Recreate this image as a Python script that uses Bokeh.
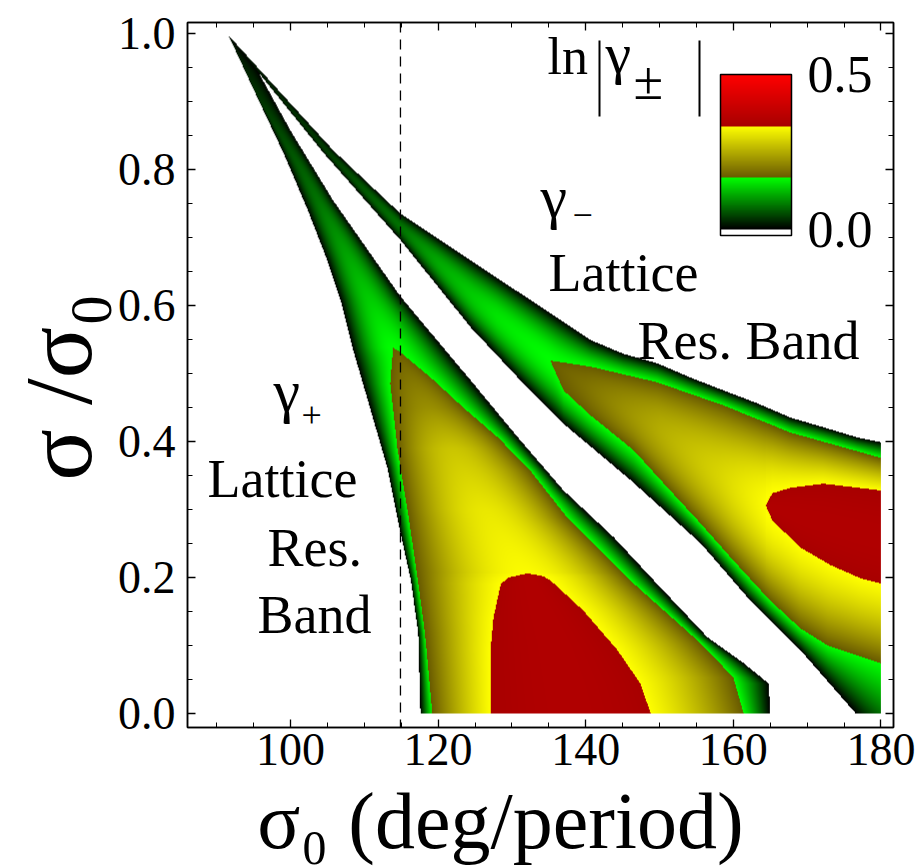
import numpy as np
from bokeh.plotting import figure
from bokeh.models import (LinearAxis, FixedTicker, PrintfTickFormatter, Span, BoxAnnotation,
                          ColorBar, LinearColorMapper, Range1d, CustomJSTickFormatter)
from bokeh.core.properties import value
from bokeh.embed import file_html
from bokeh.resources import INLINE

# ---------------- data ----------------
# gamma+ lattice resonance band, described row by row (sigma/sigma0 -> sigma0)
GP_L0_Y = [0.0, 0.118, 0.196, 0.265, 0.362, 0.456, 0.534, 0.607, 0.666, 0.744, 0.824, 0.906, 0.997]
GP_L0_X = [117.6, 117.3, 116.3, 114.9, 113.1, 110.6, 108.5, 106.8, 105.0, 102.2, 99.05, 95.5, 91.6]
GP_R0_Y = [0.0, 0.044, 0.074, 0.112, 0.196, 0.259, 0.328, 0.406, 0.490, 0.613, 0.754, 0.857, 0.946, 0.997]
GP_R0_X = [165.0, 164.8, 161.4, 156.5, 149.2, 143.8, 137.0, 130.8, 124.4, 114.9, 105.8, 100.0, 95.5, 91.6]
GP_L1_Y = [0.0, 0.118, 0.191, 0.288, 0.387, 0.485, 0.538]
GP_L1_X = [119.2, 118.2, 117.3, 116.0, 114.5, 113.5, 113.9]
GP_R1_Y = [0.0, 0.053, 0.103, 0.191, 0.288, 0.357, 0.406, 0.450, 0.494, 0.531, 0.538]
GP_R1_X = [161.4, 160.0, 155.6, 146.5, 137.5, 132.5, 128.1, 123.4, 119.0, 114.9, 113.9]
GP_L2_Y = [0.0, 0.093, 0.141, 0.191, 0.200, 0.206]
GP_L2_X = [127.1, 127.1, 127.5, 128.5, 129.6, 132.1]
GP_R2_Y = [0.0, 0.044, 0.093, 0.151, 0.196, 0.202, 0.206]
GP_R2_X = [148.8, 147.4, 144.3, 139.7, 135.2, 134.2, 132.1]
GP_MID_Y = [0.0, 0.1, 0.2, 0.206, 0.3, 0.4, 0.5, 0.538, 0.6, 0.7, 0.8, 0.9, 0.997]
GP_MID_X = [138.0, 136.0, 132.5, 132.1, 126.5, 121.5, 116.0, 113.9, 111.2, 106.5, 101.5, 96.0, 91.6]
GP_PEAK_Y = [0.206, 0.30, 0.39, 0.45, 0.50, 0.538, 0.607, 0.754, 0.90, 0.997]
GP_PEAK_V = [0.330, 0.31, 0.275, 0.22, 0.19, 0.1667, 0.135, 0.075, 0.035, 0.01]

# gamma- lattice resonance band, described column by column (sigma0 -> sigma/sigma0)
GM_B0_X = [91.6, 104.5, 114.9, 124.4, 130.8, 137.0, 146.1, 155.6, 162.3, 169.1, 176.6, 182.0]
GM_B0_Y = [0.997, 0.824, 0.696, 0.568, 0.494, 0.426, 0.343, 0.250, 0.166, 0.093, 0.0, -0.07]
GM_T0_X = [91.6, 105.8, 114.9, 127.1, 140.7, 145.1, 149.7, 154.2, 158.7, 163.3, 167.8, 172.2, 176.8, 180.0]
GM_T0_Y = [0.997, 0.828, 0.735, 0.647, 0.549, 0.529, 0.515, 0.494, 0.475, 0.456, 0.435, 0.421, 0.406, 0.399]
GM_B1_X = [135.2, 137.0, 140.7, 146.5, 151.1, 155.6, 160.0, 165.0, 169.1, 172.8, 180.0]
GM_B1_Y = [0.519, 0.475, 0.438, 0.387, 0.332, 0.279, 0.225, 0.166, 0.125, 0.100, 0.074]
GM_T1_X = [135.2, 140.7, 149.7, 158.7, 167.8, 180.0]
GM_T1_Y = [0.519, 0.510, 0.487, 0.453, 0.413, 0.376]
GM_B2_X = [164.4, 165.3, 167.1, 169.1, 173.2, 177.2, 180.0]
GM_B2_Y = [0.306, 0.284, 0.265, 0.244, 0.218, 0.199, 0.191]
GM_T2_X = [164.4, 165.3, 167.8, 172.2, 180.0]
GM_T2_Y = [0.306, 0.324, 0.332, 0.338, 0.328]
GM_MID_X = [91.6, 105.0, 115.0, 125.0, 135.2, 140.0, 150.0, 160.0, 164.4, 170.0, 180.0]
GM_MID_Y = [0.997, 0.826, 0.715, 0.610, 0.519, 0.480, 0.415, 0.335, 0.306, 0.287, 0.260]
GM_PEAK_X = [91.6, 100.0, 105.0, 115.0, 120.0, 128.0, 135.2, 140.0, 150.0, 158.0, 164.4]
GM_PEAK_V = [0.01, 0.03, 0.04, 0.075, 0.11, 0.15, 0.1667, 0.19, 0.25, 0.29, 0.330]

PEAK_RED = 0.35                               # ln|gamma| inside the red islands
LEVELS = [0.0, 1 / 6, 1 / 3, 0.5]             # colour band limits of ln|gamma_pm|
BAND_LO = [(0, 0, 0), (105, 90, 0), (168, 0, 0)]
BAND_HI = [(0, 255, 0), (255, 255, 0), (255, 0, 0)]
CB_TICKS = [0.0, 0.5]
X_TICKS = [100, 120, 140, 160, 180]
Y_TICKS = [0.0, 0.2, 0.4, 0.6, 0.8, 1.0]
DASHED_SIGMA0 = 114.9
X_TITLE = "σ₀ (deg/period)"
Y_TITLE = "σ /σ₀"

# ---------------- field construction ----------------
X0, X1, Y0, Y1 = 90.0, 180.0, 0.0, 1.0
NX, NY = 664, 680
xs = X0 + (np.arange(NX) + 0.5) * (X1 - X0) / NX
ys = Y0 + (np.arange(NY) + 0.5) * (Y1 - Y0) / NY


def I(u, a, b):
    return float(np.interp(u, a, b))


def half(u, pos, vals, out):
    """one flank of a band: pos runs from the band edge to the ridge"""
    e, m = pos[0], pos[-1]
    if abs(m - e) < 1e-9:
        return
    s = (u - e) / (m - e)
    msk = (s >= 0) & (s <= 1)
    sk = np.clip((np.asarray(pos) - e) / (m - e), 0, 1)
    sk = np.maximum.accumulate(sk)
    g = s[msk] * (2 - s[msk])
    gk = sk * (2 - sk)
    out[msk] = np.interp(g, gk, vals)


def band_slice(c, u, E):
    (A0c, A0u, Z0c, Z0u, A1c, A1u, Z1c, Z1u, A2c, A2u, Z2c, Z2u, Mc, Mu, Pc, Pv, fwd) = E

    def inside(c, arr):
        return (c >= arr[0]) if fwd else (c <= arr[-1])
    out = np.full(u.shape, np.nan)
    a0, z0 = I(c, A0c, A0u), I(c, Z0c, Z0u)
    m = I(c, Mc, Mu)
    if inside(c, A2c):
        a1, z1 = I(c, A1c, A1u), I(c, Z1c, Z1u)
        a2, z2 = I(c, A2c, A2u), I(c, Z2c, Z2u)
        m = min(max(m, a2), z2)
        vals = [0, LEVELS[1], LEVELS[2], PEAK_RED]
        half(u, [a0, a1, a2, m], vals, out)
        half(u, [z0, z1, z2, m], vals, out)
    elif inside(c, A1c):
        a1, z1 = I(c, A1c, A1u), I(c, Z1c, Z1u)
        m = min(max(m, a1), z1)
        pk = I(c, Pc, Pv)
        half(u, [a0, a1, m], [0, LEVELS[1], pk], out)
        half(u, [z0, z1, m], [0, LEVELS[1], pk], out)
    else:
        m = min(max(m, a0), z0)
        pk = I(c, Pc, Pv)
        half(u, [a0, m], [0, pk], out)
        half(u, [z0, m], [0, pk], out)
    return out


V = np.full((NY, NX), np.nan)
GP = (GP_L0_Y, GP_L0_X, GP_R0_Y, GP_R0_X, GP_L1_Y, GP_L1_X, GP_R1_Y, GP_R1_X,
      GP_L2_Y, GP_L2_X, GP_R2_Y, GP_R2_X, GP_MID_Y, GP_MID_X, GP_PEAK_Y, GP_PEAK_V, False)
for j, y in enumerate(ys):
    if y <= GP_L0_Y[-1]:
        V[j, :] = np.fmax(V[j, :], band_slice(y, xs, GP))
GM = (GM_B0_X, GM_B0_Y, GM_T0_X, GM_T0_Y, GM_B1_X, GM_B1_Y, GM_T1_X, GM_T1_Y,
      GM_B2_X, GM_B2_Y, GM_T2_X, GM_T2_Y, GM_MID_X, GM_MID_Y, GM_PEAK_X, GM_PEAK_V, True)
for i, x in enumerate(xs):
    if x >= GM_B0_X[0]:
        V[:, i] = np.fmax(V[:, i], band_slice(x, ys, GM))


def colorize(v):
    v = np.asarray(v, float)
    ok = np.isfinite(v) & (v > 0)
    vv = np.where(ok, v, 0.0)
    k = np.clip(np.floor(vv / LEVELS[1]).astype(int), 0, 2)
    lo = np.array(LEVELS)[k]
    t = np.clip((vv - lo) / LEVELS[1], 0, 1)
    LO, HI = np.array(BAND_LO, float), np.array(BAND_HI, float)
    rgb = LO[k] + (HI[k] - LO[k]) * t[..., None]
    return rgb.astype(np.uint8), ok


rgb, ok = colorize(V)
img = np.zeros((NY, NX), dtype=np.uint32)
view = img.view(dtype=np.uint8).reshape((NY, NX, 4))
for c in range(3):
    view[..., c] = rgb[..., c]
view[..., 3] = np.where(ok, 255, 0)

# ---------------- figure (reference pixel geometry) ----------------
FONT = "Liberation Serif"
XPP = 7.38      # reference pixels per degree
K = 0.345       # baseline correction of bokeh text boxes (fraction of font size)
W, H = 922, 868


def dx(px):
    return 100 + (px - 290) / XPP


def dy(py):
    return (713 - py) / 680.0


p = figure(width=W, height=H, output_backend="svg", toolbar_location=None,
           x_range=Range1d(dx(187), dx(893)), y_range=Range1d(dy(727), dy(22)),
           min_border_left=187, min_border_right=W - 893, min_border_top=22,
           min_border_bottom=H - 727, x_axis_location=None, y_axis_location=None)
p.background_fill_color = "white"
p.border_fill_color = "white"
p.grid.visible = False
p.outline_line_color = "black"
p.outline_line_width = 1.5

p.image_rgba(image=[img], x=X0, y=Y0, dw=X1 - X0, dh=Y1 - Y0)

x_minor = list(range(85, 185, 5))
y_minor = [round(0.05 * k, 2) for k in range(0, 21)]
blank = CustomJSTickFormatter(code="return ''")


def style_axis(ax, labels):
    ax.major_tick_in = 8
    ax.major_tick_out = 0
    ax.minor_tick_in = 5
    ax.minor_tick_out = 0
    ax.major_tick_line_width = 1.3
    ax.minor_tick_line_width = 1.0
    ax.axis_line_width = 1.5
    ax.major_label_text_font = FONT
    ax.major_label_text_color = "black"
    ax.major_label_text_font_size = "46px"
    ax.axis_label_text_font = FONT
    ax.axis_label_text_font_style = "normal"
    ax.axis_label_text_color = "black"
    if not labels:
        ax.formatter = blank
        ax.major_label_standoff = 0


NB = "\u00a0"
xb = LinearAxis(ticker=FixedTicker(ticks=X_TICKS, minor_ticks=x_minor))
style_axis(xb, True)
xb.major_label_standoff = 6
xb.axis_label = X_TITLE + NB * 4
xb.axis_label_text_font_size = "80px"
xb.axis_label_standoff = 9
p.add_layout(xb, "below")
xt = LinearAxis(ticker=FixedTicker(ticks=X_TICKS, minor_ticks=x_minor))
style_axis(xt, False)
p.add_layout(xt, "above")
yl = LinearAxis(ticker=FixedTicker(ticks=Y_TICKS, minor_ticks=y_minor),
                formatter=PrintfTickFormatter(format="%.1f"))
style_axis(yl, True)
yl.major_label_standoff = 12
yl.axis_label = Y_TITLE + NB
yl.axis_label_text_font_size = "96px"
yl.axis_label_standoff = 3
p.add_layout(yl, "left")
yr = LinearAxis(ticker=FixedTicker(ticks=Y_TICKS, minor_ticks=y_minor))
style_axis(yr, False)
p.add_layout(yr, "right")

p.add_layout(Span(location=DASHED_SIGMA0, dimension="height", line_color="black",
                  line_width=1.3, line_dash="10 7"))

# ---------------- colour bar ----------------
CB_LOW, CB_HIGH = -0.02, 0.5
cb_vals = np.linspace(CB_LOW, CB_HIGH, 256)
cb_rgb, cb_ok = colorize(cb_vals)
palette = ["#%02x%02x%02x" % tuple(int(q) for q in c) if o else "#ffffff"
           for c, o in zip(cb_rgb, cb_ok)]
mapper = LinearColorMapper(palette=palette, low=CB_LOW, high=CB_HIGH)
cb = ColorBar(color_mapper=mapper, location=(533, 492), width=71, height=161,
              padding=0, margin=0, ticker=FixedTicker(ticks=CB_TICKS),
              formatter=PrintfTickFormatter(format="%.1f"),
              major_tick_line_color=None, minor_tick_line_color=None,
              bar_line_color="black", bar_line_width=1.5,
              border_line_color=None, background_fill_alpha=0,
              label_standoff=16, major_label_text_font=FONT,
              major_label_text_font_size="52px", major_label_text_color="black")
p.add_layout(cb)


# ---------------- texts (glyphs, alphabetic baseline) ----------------
def ptxt(px, py, text, size, style="normal"):
    p.text(x=[dx(px)], y=[dy(py - K * size)], text=[text], text_font=value(FONT),
           text_font_size=value("%dpx" % size), text_font_style=value(style),
           text_align=value("left"), text_baseline=value("alphabetic"),
           text_color=value("black"))


# colour bar title  ln|gamma_pm|  (abs bars drawn as thin boxes)
ptxt(547, 74, "ln", 52)
ptxt(605, 73, "γ", 58)
ptxt(633, 99, "±", 54)
for bx in (598.0, 698.0):
    p.add_layout(BoxAnnotation(left=dx(bx), right=dx(bx + 2.0), bottom=dy(116), top=dy(40),
                               fill_color="black", fill_alpha=1.0, line_color=None))

# gamma- labels
ptxt(540, 217, "γ", 60)
ptxt(572, 227, "−", 36)
ptxt(548, 291, "Lattice", 54)
ptxt(637, 359, "Res. Band", 54)

# gamma+ labels
ptxt(273, 411, "γ", 60)
ptxt(301, 427, "+", 36)
ptxt(207, 497, "Lattice", 54)
ptxt(267, 566, "Res.", 54)
ptxt(257, 633, "Band", 54)

open("out.html", "w").write(file_html(p, INLINE))
